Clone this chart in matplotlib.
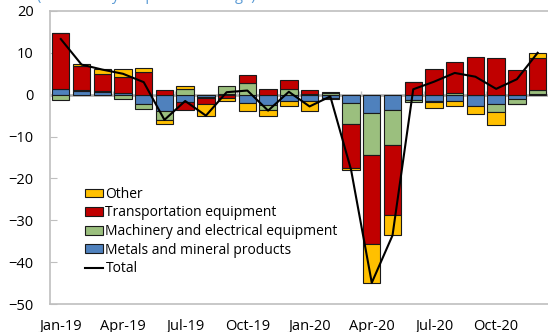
import numpy as np
import matplotlib
matplotlib.use("Agg")
import matplotlib.pyplot as plt

plt.rcParams["font.family"] = ["Open Sans", "DejaVu Sans"]

months = ["Jan-19", "Feb-19", "Mar-19", "Apr-19", "May-19", "Jun-19",
          "Jul-19", "Aug-19", "Sep-19", "Oct-19", "Nov-19", "Dec-19",
          "Jan-20", "Feb-20", "Mar-20", "Apr-20", "May-20", "Jun-20",
          "Jul-20", "Aug-20", "Sep-20", "Oct-20", "Nov-20", "Dec-20"]

metals = [1.4, 0.8, 0.7, 0.3, -2.2, -4.0, -1.8, -0.6, 0.2, -2.0, -2.4, -1.6,
          -1.6, -0.9, -2.0, -4.4, -3.75, -1.2, -1.4, -1.4, -2.6, -2.2, -1.0, 0.2]
machinery = [-1.2, 0.3, 0.3, -1.0, -1.2, -2.0, 1.4, -0.2, 2.0, 2.8, -1.2, 1.4,
             0.2, 0.3, -4.9, -10.1, -8.25, -0.5, -0.4, 0.3, 0.0, -2.0, -1.2, 1.0]
transport = [13.4, 5.8, 4.0, 4.0, 5.4, 1.2, -1.8, -1.5, -0.7, 2.0, 1.4, 2.0,
             1.0, 0.3, -10.6, -21.2, -16.8, 3.0, 6.2, 7.5, 8.9, 8.7, 6.0, 7.6]
other = [0.0, 0.5, 1.2, 1.8, 1.0, -1.0, 0.8, -2.8, -0.7, -1.8, -1.6, -1.0,
         -2.2, -0.1, -0.5, -9.2, -4.8, 0.0, -1.3, -1.2, -2.0, -3.1, -0.1, 1.2]
total = [13.3, 7.2, 6.0, 5.0, 3.0, -6.0, -1.5, -5.0, 0.6, 1.0, -3.8, 0.7,
         -2.8, -0.4, -17.9, -44.9, -33.6, 1.3, 3.1, 5.2, 4.3, 1.4, 3.7, 10.0]

series = [
    ("Metals and mineral products", metals, "#4F81BD"),
    ("Machinery and electrical equipment", machinery, "#9BBF7E"),
    ("Transportation equipment", transport, "#C00000"),
    ("Other", other, "#FFC000"),
]

x = np.arange(len(months))

fig = plt.figure(figsize=(5.48, 3.32), dpi=100)
ax = fig.add_axes([0.092, 0.084, 0.908, 0.883])

# quarter ticks on the zero line (behind the bars)
ax.axhline(0, color="#a6a6a6", linewidth=1.8, zorder=1)
ax.vlines(np.arange(-0.5, len(months), 3), 0, 0.9, color="#bfbfbf",
          linewidth=1, zorder=1)

pos_bottom = np.zeros(len(months))
neg_bottom = np.zeros(len(months))
bars = {}
for name, vals, color in series:
    vals = np.array(vals)
    bottom = np.where(vals >= 0, pos_bottom, neg_bottom)
    bars[name] = ax.bar(x, vals, width=0.84, bottom=bottom, color=color,
                        edgecolor="#1a1a1a", linewidth=0.8, zorder=2,
                        label=name)
    pos_bottom += np.where(vals >= 0, vals, 0)
    neg_bottom += np.where(vals < 0, vals, 0)

line, = ax.plot(x, total, color="black", linewidth=1.5, zorder=3, label="Total")

ax.set_xlim(-0.5, len(months) - 0.5)
ax.set_ylim(-50, 20)
ax.set_yticks(range(-50, 21, 10))
ax.set_xticks(x[::3])
ax.set_xticklabels(months[::3])

for side in ["left", "bottom", "top"]:
    ax.spines[side].set_color("#bfbfbf")
    ax.spines[side].set_linewidth(1.2)
ax.spines["right"].set_visible(False)

ax.tick_params(axis="y", direction="in", length=5, color="#bfbfbf",
               labelsize=10.5, pad=12)
ax.tick_params(axis="x", length=0, labelsize=10.5, pad=11)

handles = [bars["Other"], bars["Transportation equipment"],
           bars["Machinery and electrical equipment"],
           bars["Metals and mineral products"], line]
labels = ["Other", "Transportation equipment",
          "Machinery and electrical equipment",
          "Metals and mineral products", "Total"]
ax.legend(handles, labels, loc="upper left", bbox_to_anchor=(0.07, 0.40),
          frameon=False, fontsize=10, handlelength=1.3, handleheight=0.6,
          handletextpad=0.15, labelspacing=0.26, borderpad=0, borderaxespad=0)

fig.text(0.067, 1.0, "(Year-over-year percent change)",
         color="#5B9BD5", fontsize=10.5, va="baseline")

fig.savefig("out.png", dpi=100)
